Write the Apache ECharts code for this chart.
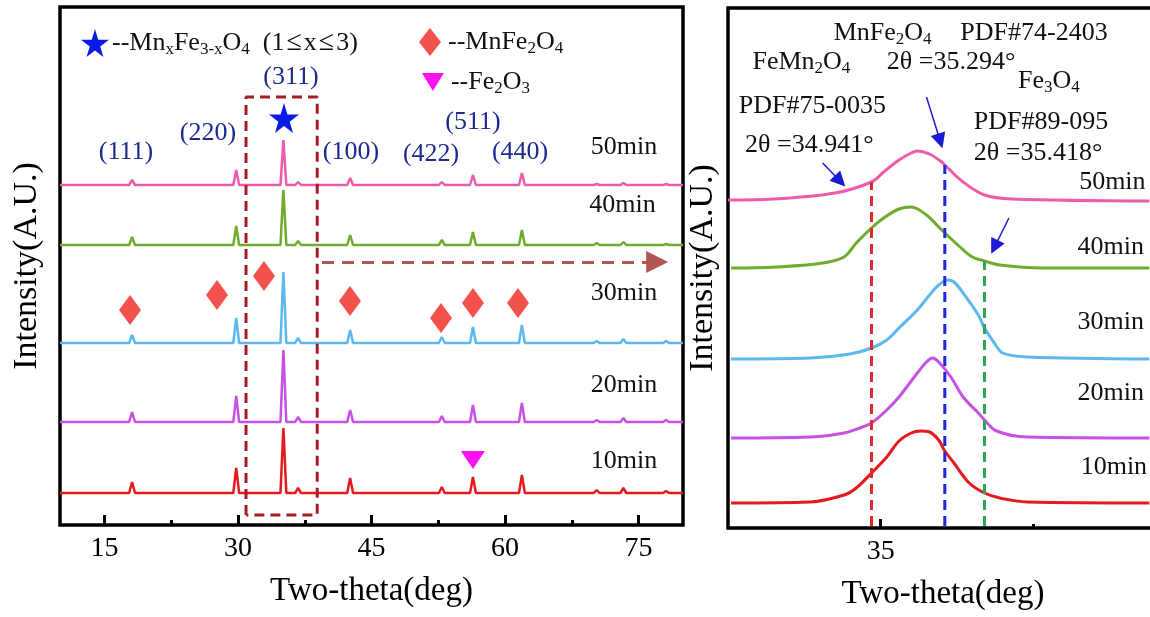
<!DOCTYPE html>
<html>
<head>
<meta charset="utf-8">
<script src="https://cdn.jsdelivr.net/npm/echarts@6/dist/echarts.min.js"></script>
<style>
html,body{margin:0;padding:0;background:#fff;}
#chart{width:1150px;height:617px;}
</style>
</head>
<body>
<div id="chart"></div>
<script>
// sample names, bottom to top
const times = ['10min', '20min', '30min', '40min', '50min'];

// left panel: reflection positions (2θ) and peak heights of each sample
const peakPos = [18.1, 29.8, 35.1, 36.75, 42.6, 52.9, 56.4, 61.9, 70.3, 73.3, 78.1];
const h10 = [11, 25, 65, 5, 15, 6, 16, 18, 3, 5, 2];
const h20 = [10, 26, 72, 5, 12, 6, 17, 19, 2, 4, 2];
const h30 = [8, 25, 71, 5, 13, 6, 16, 18, 2, 4, 2];
const h40 = [8, 19, 55, 4, 10, 5, 13, 15, 2, 3, 1];
const h50 = [5, 15, 45, 3, 7, 3, 10, 12, 1, 2, 1];
// stacking offset of each trace
const baseLeft = [32, 103, 182, 280, 340];

// right panel: zoom on the (311) reflection, [2θ, intensity]
const z10 = [[34.51,25],[34.77,26],[34.88,33],[34.92,40],[34.97,55],[35.02,71],[35.06,87],[35.10,95],[35.13,97],[35.16,96],[35.19,88],[35.21,77],[35.24,65],[35.29,45],[35.34,35],[35.39,30],[35.48,26],[35.88,25]];
const z20 = [[34.51,90],[34.77,91],[34.88,95],[34.94,101],[34.97,105],[35.02,118],[35.06,131],[35.12,155],[35.15,166],[35.17,170],[35.19,166],[35.23,151],[35.27,131],[35.32,115],[35.34,108],[35.38,97],[35.48,91],[35.88,90]];
const z30 = [[34.51,169],[34.77,170],[34.90,174],[34.97,180],[35.02,188],[35.06,200],[35.12,218],[35.16,233],[35.19,243],[35.22,248],[35.24,246],[35.27,235],[35.32,213],[35.34,200],[35.37,186],[35.40,175],[35.48,171],[35.88,169]];
const z40 = [[34.51,260],[34.66,261],[34.81,265],[34.88,271],[34.92,285],[34.97,300],[35.01,310],[35.06,319],[35.10,321],[35.15,313],[35.20,298],[35.26,281],[35.30,271],[35.34,267],[35.39,263],[35.53,260],[35.88,260]];
const z50 = [[34.50,328],[34.65,329],[34.85,335],[34.97,346],[35.01,356],[35.06,368],[35.10,375],[35.12,377],[35.16,374],[35.20,366],[35.21,363],[35.27,346],[35.34,333],[35.43,329],[35.88,327]];

// reference positions in the zoom (red, blue, green) and where each dashed line stops
const refPos = [34.97, 35.21, 35.34];
const refTop = [346, 363, 267];

// tick labels
const leftTicks = [15, 30, 45, 60, 75];
const leftMinor = [22.5, 37.5, 52.5, 67.5];
const rightTicks = [35];
const rightMinor = [35.5];

const colors = ['#E8191C', '#C850E6', '#5CB8EE', '#70AC2C', '#EE5BA8'];
const FONT = "'Liberation Serif', 'Times New Roman', serif";
const STAR = 'path://M50,0 L61,35 L98,35 L68,57 L79,91 L50,70 L21,91 L32,57 L2,35 L39,35 Z';

function spikes(h, base){
    const pts = [[10, base]];
    peakPos.forEach((p, i) => {
        pts.push([p - 0.33, base], [p, base + h[i]], [p + 0.33, base]);
    });
    pts.push([80, base]);
    return pts;
}

const rich = {
    n: {fontSize: 26, fontFamily: FONT, color: '#111', lineHeight: 30},
    s: {fontSize: 17, fontFamily: FONT, color: '#111', lineHeight: 22, verticalAlign: 'bottom'},
    le: {fontSize: 28, fontFamily: FONT, color: '#111', lineHeight: 30, padding: [0, 2]},
    b: {fontSize: 26, fontFamily: FONT, color: '#1B2A8F', lineHeight: 30}
};

function textSeries(xi, items, pos, dist){
    return {
        type: 'scatter', xAxisIndex: xi, yAxisIndex: xi === 0 ? 0 : 1,
        symbolSize: 0, silent: true, z: 20,
        itemStyle: {opacity: 1},
        data: items.map(t => ({value: t[0], name: t[1]})),
        label: {show: true, position: pos, distance: dist, formatter: p => p.name, rich: rich}
    };
}

const chart = echarts.init(document.getElementById('chart'));

const leftData = [h10, h20, h30, h40, h50];
const rightData = [z10, z20, z30, z40, z50];
const series = [];

leftData.forEach((h, i) => {
    series.push({
        type: 'line', xAxisIndex: 0, yAxisIndex: 0, name: times[i],
        data: spikes(h, baseLeft[i]), showSymbol: false, silent: true,
        lineStyle: {color: colors[i], width: 2.5}
    });
});
rightData.forEach((d, i) => {
    series.push({
        type: 'line', xAxisIndex: 2, yAxisIndex: 1, name: times[i],
        data: d, showSymbol: false, smooth: 0.35, silent: true,
        lineStyle: {color: colors[i], width: 3}
    });
});

// dashed box around (311) and arrow to zoom panel
series.push({
    type: 'line', xAxisIndex: 0, yAxisIndex: 0, silent: true, z: 10,
    data: [[30.9,10],[30.9,428],[38.9,428],[38.9,10],[30.9,10]],
    showSymbol: false,
    lineStyle: {color: '#A81C22', width: 3, type: [10, 6]},
    markLine: {
        silent: true, symbol: ['none', 'triangle'], symbolSize: 22,
        label: {show: false},
        lineStyle: {color: '#B5554F', width: 3, type: [12, 8]},
        data: [[{coord: [39.44, 263]}, {coord: [77.1, 263]}]]
    }
});

// phase markers
series.push({
    type: 'scatter', xAxisIndex: 0, yAxisIndex: 0, silent: true, z: 15,
    symbol: 'diamond', symbolSize: [22, 30],
    itemStyle: {color: '#F2514C', opacity: 1},
    data: [[17.87,215],[27.64,230],[32.92,249],[42.58,224],[52.81,207],[56.4,222],[61.46,222]]
});
series.push({
    type: 'scatter', xAxisIndex: 0, yAxisIndex: 0, silent: true, z: 15,
    symbol: STAR, symbolSize: 30, itemStyle: {color: '#0A1AE6', opacity: 1},
    data: [[35.17, 407]]
});
series.push({
    type: 'scatter', xAxisIndex: 0, yAxisIndex: 0, silent: true, z: 15,
    symbol: 'triangle', symbolRotate: 180, symbolSize: [24, 18], itemStyle: {color: '#FF10F0', opacity: 1},
    data: [[56.4, 65]]
});

// legend inside left panel
series.push({
    type: 'scatter', xAxisIndex: 0, yAxisIndex: 0, silent: true, z: 15,
    symbol: STAR, symbolSize: 28, itemStyle: {color: '#0A1AE6', opacity: 1},
    data: [{value: [13.93, 482], name: '{n|--Mn}{s|x}{n|Fe}{s|3-x}{n|O}{s|4}{n|  (1}{le|≤}{n|x}{le|≤}{n|3)}'}],
    label: {show: true, position: 'right', distance: 3, formatter: p => p.name, rich: rich}
});
series.push({
    type: 'scatter', xAxisIndex: 0, yAxisIndex: 0, silent: true, z: 15,
    symbol: 'diamond', symbolSize: [22, 28], itemStyle: {color: '#F2514C', opacity: 1},
    data: [{value: [51.57, 483], name: '{n|--MnFe}{s|2}{n|O}{s|4}'}],
    label: {show: true, position: 'right', distance: 7, formatter: p => p.name, rich: rich}
});
series.push({
    type: 'scatter', xAxisIndex: 0, yAxisIndex: 0, silent: true, z: 15,
    symbol: 'triangle', symbolRotate: 180, symbolSize: [22, 18], itemStyle: {color: '#FF10F0', opacity: 1},
    data: [{value: [51.9, 443], name: '{n|--Fe}{s|2}{n|O}{s|3}'}],
    label: {show: true, position: 'right', distance: 7, formatter: p => p.name, rich: rich}
});

// hkl labels
series.push(textSeries(0, [
    [[17.42,373], '{b|(111)}'], [[26.63,392], '{b|(220)}'], [[35.96,448], '{b|(311)}'],
    [[42.7,373], '{b|(100)}'], [[51.69,371], '{b|(422)}'], [[56.4,403], '{b|(511)}'],
    [[61.69,373], '{b|(440)}']
], 'inside', 0));

// sample labels
series.push(textSeries(0, [
    [[73.37,64], '{n|' + times[0] + '}'], [[73.37,140], '{n|' + times[1] + '}'],
    [[73.37,232], '{n|' + times[2] + '}'], [[73.2,320], '{n|' + times[3] + '}'],
    [[73.37,378], '{n|' + times[4] + '}']
], 'inside', 0));
series.push(textSeries(2, [
    [[35.655,61], '{n|' + times[0] + '}'], [[35.645,135], '{n|' + times[1] + '}'],
    [[35.645,206], '{n|' + times[2] + '}'], [[35.645,281], '{n|' + times[3] + '}'],
    [[35.65,346], '{n|' + times[4] + '}']
], 'right', 0));

// reference annotations in the zoom panel
series.push(textSeries(2, [
    [[34.846,495], '{n|MnFe}{s|2}{n|O}{s|4}'],
    [[35.261,495], '{n|PDF#74-2403}'],
    [[34.58,466], '{n|FeMn}{s|2}{n|O}{s|4}'],
    [[35.02,466], '{n|2θ =35.294°}'],
    [[35.45,447], '{n|Fe}{s|3}{n|O}{s|4}'],
    [[34.535,422], '{n|PDF#75-0035}'],
    [[34.556,383], '{n|2θ =34.941°}'],
    [[35.305,406], '{n|PDF#89-095}'],
    [[35.305,375], '{n|2θ =35.418°}']
], 'right', 0));

// dashed reference lines
const refColors = ['#E3262A', '#1E28E0', '#2EA84E'];
refPos.forEach((x, i) => {
    series.push({
        type: 'line', xAxisIndex: 2, yAxisIndex: 1, silent: true, z: 12,
        data: [[x, 2], [x, refTop[i]]], showSymbol: false,
        lineStyle: {color: refColors[i], width: 3, type: [10, 6]}
    });
});

// blue arrows
series.push({
    type: 'line', xAxisIndex: 2, yAxisIndex: 1, silent: true, data: [], z: 14,
    markLine: {
        silent: true, symbol: ['none', 'triangle'], symbolSize: 15,
        label: {show: false},
        lineStyle: {color: '#1A1AD6', width: 1.5, type: 'solid'},
        data: [
            [{coord: [34.81, 365]}, {coord: [34.867, 347]}],
            [{coord: [35.15, 431]}, {coord: [35.195, 387]}],
            [{coord: [35.42, 310]}, {coord: [35.373, 281]}]
        ]
    }
});

const axisFont = {fontFamily: FONT, fontSize: 28, color: '#000'};
const nameFont = {fontFamily: FONT, fontSize: 33, color: '#000'};

const option = {
    animation: false,
    backgroundColor: '#fff',
    textStyle: {fontFamily: FONT},
    grid: [
        {left: 60, top: 7, width: 623, height: 518, show: true, borderColor: '#000', borderWidth: 3.5, outerBoundsMode: 'none'},
        {left: 728, top: 8, width: 458, height: 520, show: true, borderColor: '#000', borderWidth: 3.5, outerBoundsMode: 'none'}
    ],
    xAxis: [
        {
            type: 'value', gridIndex: 0, min: 10, max: 80, position: 'bottom',
            axisLine: {show: false}, splitLine: {show: false},
            axisTick: {show: true, inside: true, length: 10, customValues: leftTicks, lineStyle: {color: '#000', width: 3}},
            axisLabel: {show: true, margin: 10, customValues: leftTicks, ...axisFont},
            name: 'Two-theta(deg)', nameLocation: 'middle', nameGap: 50, nameTextStyle: nameFont
        },
        {
            type: 'value', gridIndex: 0, min: 10, max: 80, position: 'bottom',
            axisLine: {show: false}, splitLine: {show: false}, axisLabel: {show: false},
            axisTick: {show: true, inside: true, length: 5, customValues: leftMinor, lineStyle: {color: '#000', width: 3}}
        },
        {
            type: 'value', gridIndex: 1, min: 34.5, max: 36, position: 'bottom',
            axisLine: {show: false}, splitLine: {show: false},
            axisTick: {show: true, inside: true, length: 9, customValues: rightTicks, lineStyle: {color: '#000', width: 3}},
            axisLabel: {show: true, margin: 10, customValues: rightTicks, ...axisFont},
            name: 'Two-theta(deg)', nameLocation: 'middle', nameGap: 50,
            nameTextStyle: Object.assign({}, nameFont, {padding: [0, 28, 0, 0]})
        },
        {
            type: 'value', gridIndex: 1, min: 34.5, max: 36, position: 'bottom',
            axisLine: {show: false}, splitLine: {show: false}, axisLabel: {show: false},
            axisTick: {show: true, inside: true, length: 4, customValues: rightMinor, lineStyle: {color: '#000', width: 3}}
        }
    ],
    yAxis: [
        {
            type: 'value', gridIndex: 0, min: 0, max: 518,
            axisLine: {show: false}, axisTick: {show: false}, axisLabel: {show: false}, splitLine: {show: false},
            name: 'Intensity(A.U.)', nameLocation: 'middle', nameGap: 16,
            nameTextStyle: Object.assign({}, nameFont, {fontSize: 34})
        },
        {
            type: 'value', gridIndex: 1, min: 0, max: 520,
            axisLine: {show: false}, axisTick: {show: false}, axisLabel: {show: false}, splitLine: {show: false},
            name: 'Intensity(A.U.)', nameLocation: 'middle', nameGap: 8,
            nameTextStyle: Object.assign({}, nameFont, {fontSize: 34})
        }
    ],
    series: series
};

option && chart.setOption(option);
</script>
</body>
</html>
